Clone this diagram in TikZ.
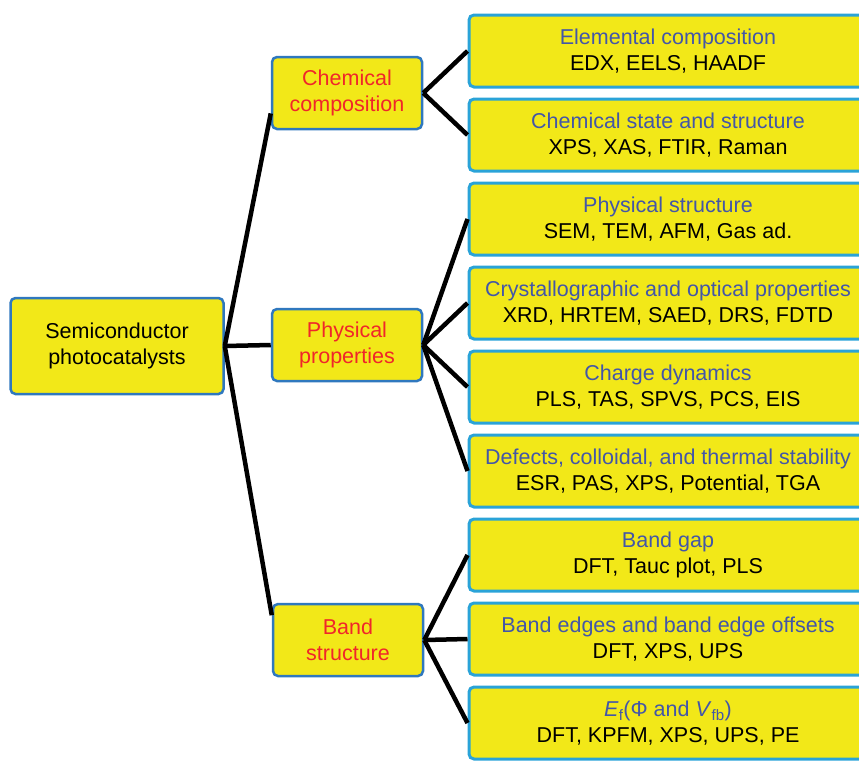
\documentclass[tikz,border=0pt]{standalone}
\usepackage{fontspec}
\setmainfont{Liberation Sans}
\usepackage{tikz}
\usetikzlibrary{positioning}
\usepackage{xcolor}
\definecolor{boxfill}{HTML}{F2E818}
\definecolor{lightrim}{HTML}{2AA3D8}
\definecolor{darkrim}{HTML}{2F78BE}
\definecolor{headblue}{HTML}{4356A8}
\definecolor{headred}{HTML}{F0262A}
\newcommand{\head}[1]{{\color{headblue}#1}}

\begin{document}
\begin{tikzpicture}[x=1pt, y=-1pt, node distance=9pt,
    every node/.style={fill=boxfill, rounded corners=5pt, align=center,
              inner sep=2pt, font=\fontsize{21.5}{26}\selectfont},
    method/.style={draw=lightrim, line width=3pt, minimum width=398pt, minimum height=72pt},
    topic/.style={draw=darkrim, line width=2.5pt, minimum width=150pt, minimum height=72pt, text=headred},
    link/.style={line width=4.5pt}]
  \useasboundingbox (0,0) rectangle (859,763);
  \node[draw=darkrim, line width=2.5pt, minimum width=213pt, minimum height=96pt] (root) at (117,346) {Semiconductor\\photocatalysts};
  \node[topic] (chem) at (347,93) {Chemical\\composition};
  \node[topic] (phys) at (347,345) {Physical\\properties};
  \node[topic] (band) at (348,640) {Band\\structure};
  \node[method] (elem) at (668,51) {\head{Elemental composition}\\EDX, EELS, HAADF};
  \node[method] (chst) [below=of elem] {\head{Chemical state and structure}\\XPS, XAS, FTIR, Raman};
  \node[method] (phst) [below=of chst] {\head{Physical structure}\\SEM, TEM, AFM, Gas ad.};
  \node[method] (cryst) [below=of phst] {\head{Crystallographic and optical properties}\\XRD, HRTEM, SAED, DRS, FDTD};
  \node[method] (charge) [below=of cryst] {\head{Charge dynamics}\\PLS, TAS, SPVS, PCS, EIS};
  \node[method] (defect) [below=of charge] {\head{Defects, colloidal, and thermal stability}\\ESR, PAS, XPS, Potential, TGA};
  \node[method] (gap) [below=of defect] {\head{Band gap}\\DFT, Tauc plot, PLS};
  \node[method] (edge) [below=of gap] {\head{Band edges and band edge offsets}\\DFT, XPS, UPS};
  \node[method] (fermi) [below=of edge] {\head{\textit{E}\textsubscript{f}(Φ and \textit{V}\textsubscript{fb})}\\DFT, KPFM, XPS, UPS, PE};
  % tree branches
  \draw[link] (root.east) -- (chem.195);
  \draw[link] (root.east) -- (phys.west);
  \draw[link] (root.east) -- (band.162);
  \foreach \m in {elem,chst} \draw[link] (chem.east) -- (\m.west);
  \foreach \m in {phst,cryst,charge,defect} \draw[link] (phys.east) -- (\m.west);
  \foreach \m in {gap,edge,fermi} \draw[link] (band.east) -- (\m.west);
\end{tikzpicture}
\end{document}
